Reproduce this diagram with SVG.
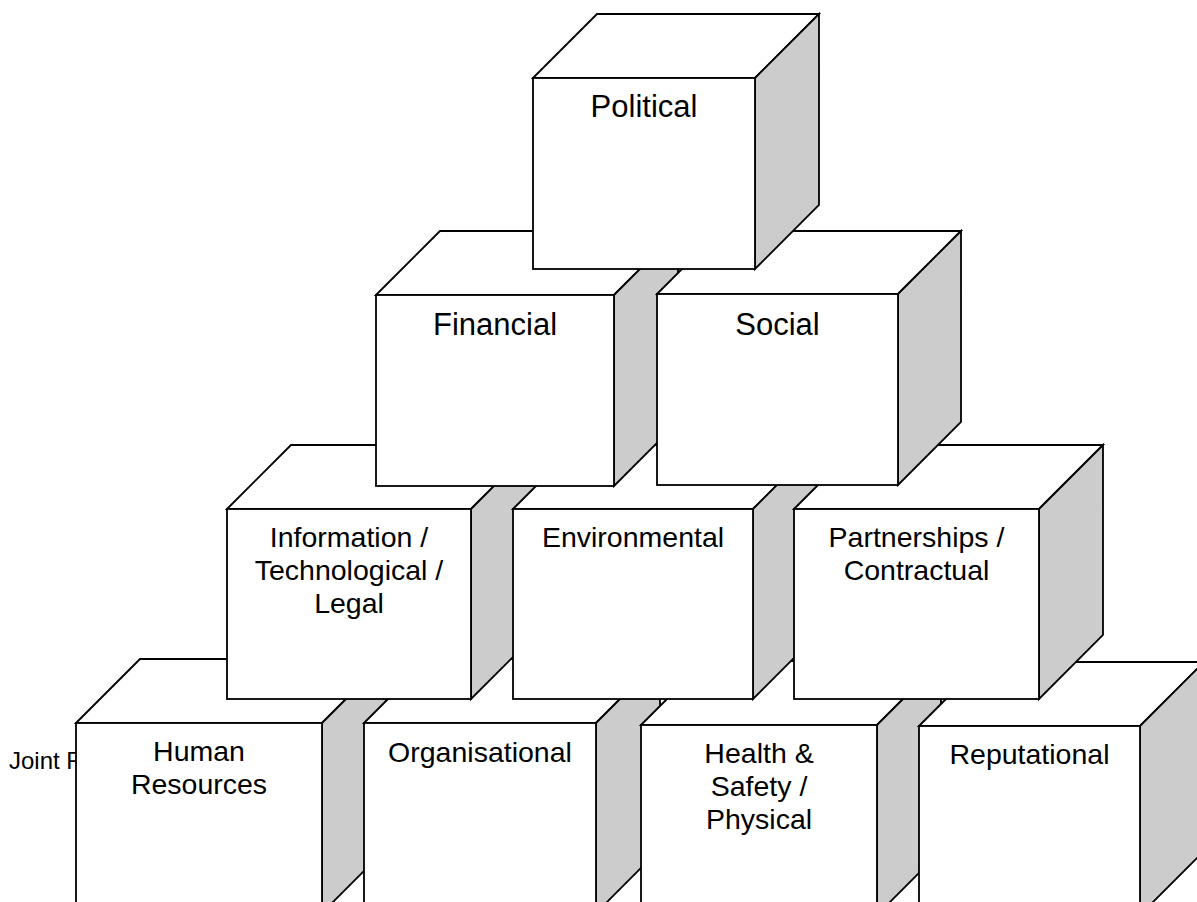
<svg xmlns="http://www.w3.org/2000/svg" width="1197" height="902" viewBox="0 0 1197 902">
  <style>
    .front { fill: #ffffff; stroke: #000000; stroke-width: 1.8; }
    .top { fill: #ffffff; stroke: #000000; stroke-width: 1.8; stroke-linejoin: miter; }
    .side { fill: #cccccc; stroke: #000000; stroke-width: 1.8; stroke-linejoin: miter; }
    .lbl { font-family: "Liberation Sans", Arial, sans-serif; font-size: 28.5px; fill: #000000; text-anchor: middle; }
    .lbl-big { font-family: "Liberation Sans", Arial, sans-serif; font-size: 31px; fill: #000000; text-anchor: middle; }
    .note { font-family: "Liberation Sans", Arial, sans-serif; font-size: 24px; fill: #000000; }
  </style>
  <rect width="1197" height="902" fill="#ffffff"/>

  <!-- caption partly hidden behind the bottom row -->
  <text class="note" x="9" y="769">Joint R</text>

  <!-- bottom row -->
  <g id="human-resources">
    <polygon class="top" points="76,723 140,659 386,659 322,723"/>
    <polygon class="side" points="322,723 386,659 386,849 322,913"/>
    <rect class="front" x="76" y="723" width="246" height="190"/>
    <text class="lbl" x="199" y="761">Human</text>
    <text class="lbl" x="199" y="794">Resources</text>
  </g>
  <g id="organisational">
    <polygon class="top" points="364,723 428,659 660,659 596,723"/>
    <polygon class="side" points="596,723 660,659 660,849 596,913"/>
    <rect class="front" x="364" y="723" width="232" height="190"/>
    <text class="lbl" x="480" y="762">Organisational</text>
  </g>
  <g id="health-safety">
    <polygon class="top" points="641,725 705,661 941,661 877,725"/>
    <polygon class="side" points="877,725 941,661 941,851 877,915"/>
    <rect class="front" x="641" y="725" width="236" height="190"/>
    <text class="lbl" x="759" y="763">Health &amp;</text>
    <text class="lbl" x="759" y="796">Safety /</text>
    <text class="lbl" x="759" y="829">Physical</text>
  </g>
  <g id="reputational">
    <polygon class="top" points="919,726 983,662 1204,662 1140,726"/>
    <polygon class="side" points="1140,726 1204,662 1204,851 1140,915"/>
    <rect class="front" x="919" y="726" width="221" height="189"/>
    <text class="lbl" x="1029.5" y="764">Reputational</text>
  </g>

  <!-- third row -->
  <g id="information">
    <polygon class="top" points="227,509 291,445 535,445 471,509"/>
    <polygon class="side" points="471,509 535,445 535,635 471,699"/>
    <rect class="front" x="227" y="509" width="244" height="190"/>
    <text class="lbl" x="349" y="547">Information /</text>
    <text class="lbl" x="349" y="580">Technological /</text>
    <text class="lbl" x="349" y="613">Legal</text>
  </g>
  <g id="environmental">
    <polygon class="top" points="513,509 577,445 817,445 753,509"/>
    <polygon class="side" points="753,509 817,445 817,635 753,699"/>
    <rect class="front" x="513" y="509" width="240" height="190"/>
    <text class="lbl" x="633" y="547">Environmental</text>
  </g>
  <g id="partnerships">
    <polygon class="top" points="794,509 858,445 1103,445 1039,509"/>
    <polygon class="side" points="1039,509 1103,445 1103,635 1039,699"/>
    <rect class="front" x="794" y="509" width="245" height="190"/>
    <text class="lbl" x="916.5" y="547">Partnerships /</text>
    <text class="lbl" x="916.5" y="580">Contractual</text>
  </g>

  <!-- second row -->
  <g id="financial">
    <polygon class="top" points="376,295 440,231 678,231 614,295"/>
    <polygon class="side" points="614,295 678,231 678,422 614,486"/>
    <rect class="front" x="376" y="295" width="238" height="191"/>
    <text class="lbl-big" x="495" y="335">Financial</text>
  </g>
  <g id="social">
    <polygon class="top" points="657,294 720,231 961,231 898,294"/>
    <polygon class="side" points="898,294 961,231 961,422 898,485"/>
    <rect class="front" x="657" y="294" width="241" height="191"/>
    <text class="lbl-big" x="777.5" y="335">Social</text>
  </g>

  <!-- top -->
  <g id="political">
    <polygon class="top" points="533,78 597,14 819,14 755,78"/>
    <polygon class="side" points="755,78 819,14 819,205 755,269"/>
    <rect class="front" x="533" y="78" width="222" height="191"/>
    <text class="lbl-big" x="644" y="117">Political</text>
  </g>

  <g id="connectors"/>
</svg>
